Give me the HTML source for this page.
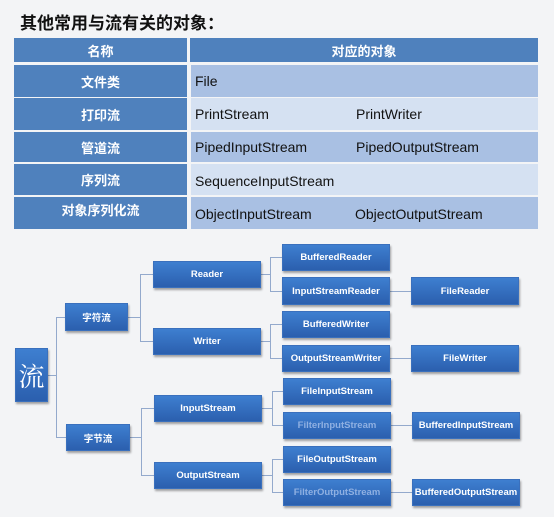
<!DOCTYPE html>
<html><head><meta charset="utf-8"><style>
*{margin:0;padding:0;box-sizing:border-box}
body{width:554px;height:517px;background:#f3f4f6;position:relative;overflow:hidden;font-family:"Liberation Sans","Noto Sans CJK SC",sans-serif}
.a{position:absolute}
.h{background:#4f81bd;color:#fff;font-weight:bold;font-size:13px;display:flex;align-items:center;justify-content:center}
.l{background:#4f81bd;color:#fff;font-weight:bold;font-size:13px;display:flex;align-items:center;justify-content:center}
.r1{background:#a9c0e3}.r2{background:#d5e1f2}
.t{position:absolute;font-size:14px;color:#111}
.b{position:absolute;background:linear-gradient(#3e7fd0,#2b5fae);color:#fff;font-weight:bold;font-size:9.5px;display:flex;align-items:center;justify-content:center;box-shadow:1px 2px 2px rgba(0,0,0,.35);border:1px solid #3a70bd;white-space:nowrap}
.f{color:#8fb0e2}
.ln{position:absolute;background:#93a9cc}
</style></head><body>
<div class="a" style="left:20px;top:9px;font-size:17px;font-weight:bold;color:#111">其他常用与流有关的对象：</div>
<div class="a h" style="left:14px;top:38px;width:173px;height:24px">名称</div>
<div class="a h" style="left:190px;top:38px;width:348px;height:24px">对应的对象</div>

<div class="a l" style="left:14px;top:65px;width:173px;height:32px">文件类</div>
<div class="a r1" style="left:191px;top:65px;width:347px;height:32px"></div>
<div class="a l" style="left:14px;top:98px;width:173px;height:32px">打印流</div>
<div class="a r2" style="left:191px;top:98px;width:347px;height:32px"></div>
<div class="a l" style="left:14px;top:132px;width:173px;height:30px">管道流</div>
<div class="a r1" style="left:191px;top:132px;width:347px;height:30px"></div>
<div class="a l" style="left:14px;top:164px;width:173px;height:31px">序列流</div>
<div class="a r2" style="left:191px;top:164px;width:347px;height:31px"></div>
<div class="a l" style="left:14px;top:197px;width:173px;height:32px;align-items:flex-start;padding-top:3px">对象序列化流</div>
<div class="a r1" style="left:191px;top:197px;width:347px;height:32px"></div>

<div class="t" style="left:195px;top:73px">File</div>
<div class="t" style="left:195px;top:106px">PrintStream</div>
<div class="t" style="left:356px;top:106px">PrintWriter</div>
<div class="t" style="left:195px;top:139px">PipedInputStream</div>
<div class="t" style="left:356px;top:139px">PipedOutputStream</div>
<div class="t" style="left:195px;top:173px">SequenceInputStream</div>
<div class="t" style="left:195px;top:206px">ObjectInputStream</div>
<div class="t" style="left:355px;top:206px">ObjectOutputStream</div>

<div class="ln" style="left:48px;top:375px;width:9px;height:1px"></div>
<div class="ln" style="left:56px;top:317px;width:1px;height:121px"></div>
<div class="ln" style="left:56px;top:317px;width:9px;height:1px"></div>
<div class="ln" style="left:56px;top:437px;width:10px;height:1px"></div>

<div class="ln" style="left:128px;top:317px;width:13px;height:1px"></div>
<div class="ln" style="left:140px;top:274px;width:1px;height:68px"></div>
<div class="ln" style="left:140px;top:274px;width:13px;height:1px"></div>
<div class="ln" style="left:140px;top:341px;width:13px;height:1px"></div>

<div class="ln" style="left:130px;top:437px;width:12px;height:1px"></div>
<div class="ln" style="left:141px;top:408px;width:1px;height:68px"></div>
<div class="ln" style="left:141px;top:408px;width:13px;height:1px"></div>
<div class="ln" style="left:141px;top:475px;width:13px;height:1px"></div>

<div class="ln" style="left:261px;top:274px;width:10px;height:1px"></div>
<div class="ln" style="left:270px;top:257px;width:1px;height:35px"></div>
<div class="ln" style="left:270px;top:257px;width:12px;height:1px"></div>
<div class="ln" style="left:270px;top:291px;width:12px;height:1px"></div>

<div class="ln" style="left:261px;top:341px;width:10px;height:1px"></div>
<div class="ln" style="left:270px;top:324px;width:1px;height:35px"></div>
<div class="ln" style="left:270px;top:324px;width:12px;height:1px"></div>
<div class="ln" style="left:270px;top:358px;width:12px;height:1px"></div>

<div class="ln" style="left:262px;top:408px;width:10px;height:1px"></div>
<div class="ln" style="left:272px;top:391px;width:1px;height:35px"></div>
<div class="ln" style="left:272px;top:391px;width:11px;height:1px"></div>
<div class="ln" style="left:272px;top:425px;width:11px;height:1px"></div>

<div class="ln" style="left:262px;top:475px;width:10px;height:1px"></div>
<div class="ln" style="left:272px;top:459px;width:1px;height:34px"></div>
<div class="ln" style="left:272px;top:459px;width:11px;height:1px"></div>
<div class="ln" style="left:272px;top:492px;width:11px;height:1px"></div>

<div class="ln" style="left:390px;top:291px;width:21px;height:1px"></div>
<div class="ln" style="left:390px;top:358px;width:21px;height:1px"></div>
<div class="ln" style="left:391px;top:425px;width:21px;height:1px"></div>
<div class="ln" style="left:391px;top:492px;width:21px;height:1px"></div>

<div class="b" style="left:15px;top:348px;width:33px;height:54px;font-family:'Liberation Serif','Noto Serif CJK SC',serif;font-size:26px;font-weight:normal">流</div>
<div class="b" style="left:65px;top:303px;width:63px;height:28px">字符流</div>
<div class="b" style="left:66px;top:424px;width:64px;height:27px">字节流</div>
<div class="b" style="left:153px;top:261px;width:108px;height:27px">Reader</div>
<div class="b" style="left:153px;top:328px;width:108px;height:27px">Writer</div>
<div class="b" style="left:154px;top:395px;width:108px;height:27px">InputStream</div>
<div class="b" style="left:154px;top:462px;width:108px;height:27px">OutputStream</div>

<div class="b" style="left:282px;top:244px;width:108px;height:27px">BufferedReader</div>
<div class="b" style="left:282px;top:277px;width:108px;height:28px">InputStreamReader</div>
<div class="b" style="left:282px;top:311px;width:108px;height:27px">BufferedWriter</div>
<div class="b" style="left:282px;top:345px;width:108px;height:27px">OutputStreamWriter</div>
<div class="b" style="left:283px;top:378px;width:108px;height:27px">FileInputStream</div>
<div class="b f" style="left:283px;top:412px;width:108px;height:27px">FilterInputStream</div>
<div class="b" style="left:283px;top:446px;width:108px;height:27px">FileOutputStream</div>
<div class="b f" style="left:283px;top:479px;width:108px;height:27px">FilterOutputStream</div>

<div class="b" style="left:411px;top:277px;width:108px;height:28px">FileReader</div>
<div class="b" style="left:411px;top:345px;width:108px;height:27px">FileWriter</div>
<div class="b" style="left:412px;top:412px;width:108px;height:27px">BufferedInputStream</div>
<div class="b" style="left:412px;top:479px;width:108px;height:27px">BufferedOutputStream</div>
</body></html>
